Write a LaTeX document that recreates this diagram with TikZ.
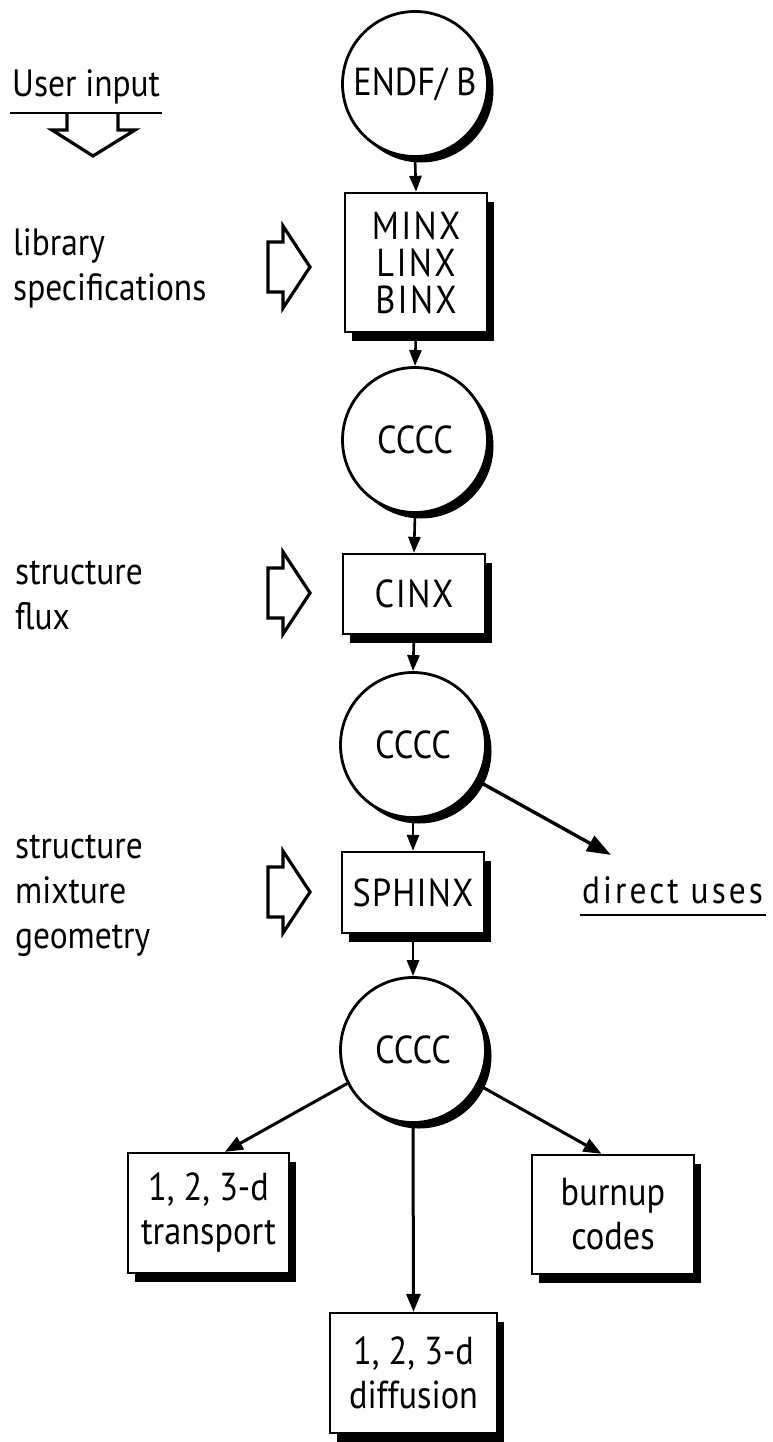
\documentclass[tikz,border=0pt]{standalone}
\usepackage{fontspec}
\setmainfont[FakeStretch=0.88]{PT Sans}
\usetikzlibrary{arrows.meta,shadows,calc}
\begin{document}
\begin{tikzpicture}[x=1pt,y=-1pt,
  lbl/.style={font=\fontsize{38}{45}\selectfont, inner sep=0pt},
  circn/.style={circle, draw, line width=2.8pt, fill=white, minimum size=145pt, inner sep=0pt,
     font=\fontsize{39}{40}\selectfont,
     general shadow={fill=black, shadow xshift=6pt, shadow yshift=-6pt}},
  boxn/.style={rectangle, draw, line width=2.3pt, fill=white, inner sep=0pt, align=center,
     font=\fontsize{39}{44}\selectfont,
     general shadow={fill=black, shadow xshift=7pt, shadow yshift=-9pt}},
  conn/.style={line width=2.6pt, -{Triangle[length=16pt,width=12pt]}},
  lowconn/.style={line width=3pt, -{Triangle[length=18pt,width=14pt]}},
  bigconn/.style={line width=3.4pt, -{Triangle[length=24pt,width=17pt]}},
  hollow/.style={line width=3.2pt, line join=miter},
  uline/.style={line width=2.8pt},
  pics/hollowarrow/.style={code={
     \draw[hollow] (-42,-25) -- (-27,-25) -- (-27,-41) -- (0,0) -- (-27,41) -- (-27,25) -- (-42,25) -- cycle;}}
]
\useasboundingbox (0,0) rectangle (773,1442);

% main column
\node[circn] (endf) at (415,84) {ENDF/ B};
\node[boxn, minimum width=142pt, minimum height=139pt, font=\fontsize{39}{37}\selectfont\addfontfeature{LetterSpace=6}] (minx) at (416,262.5) {MINX\\LINX\\BINX};
\node[circn] (c1) at (415,440) {CCCC};
\node[boxn, minimum width=142pt, minimum height=80pt, font=\fontsize{39}{44}\selectfont\addfontfeature{LetterSpace=4}] (cinx) at (414,594) {CINX};
\node[circn] (c2) at (413,745) {CCCC};
\node[boxn, minimum width=142pt, minimum height=81pt, font=\fontsize{39}{44}\selectfont\addfontfeature{LetterSpace=3}] (sphinx) at (413,892.5) {SPHINX};
\node[circn] (c3) at (413,1050) {CCCC};
\node[boxn, minimum width=161pt, minimum height=120pt] (trans) at (208.5,1213) {1, 2, 3-d\\transport};
\node[boxn, minimum width=162pt, minimum height=119pt] (burn) at (613,1214.5) {burnup\\codes};
\node[boxn, minimum width=167pt, minimum height=120pt] (diff) at (413.5,1373) {1, 2, 3-d\\diffusion};

% connectors
\draw[conn] (endf.south) -- (minx.north);
\draw[conn] (minx.south) -- (c1.north);
\draw[conn] (c1.south) -- (cinx.north);
\draw[conn] (cinx.south) -- (c2.north);
\draw[conn] (c2.south) -- (sphinx.north);
\draw[conn] (sphinx.south) -- (c3.north);
\draw[lowconn] (c3.207) -- ($(trans.north west)!0.6!(trans.north east)$);
\draw[lowconn] (c3.-28) -- ($(burn.north west)!0.43!(burn.north east)$);
\draw[lowconn] (c3.south) -- (diff.north);

% direct uses
\node[lbl, anchor=base west, font=\fontsize{38}{45}\selectfont\addfontfeature{LetterSpace=8}] (du) at (582,903) {direct uses};
\draw[uline] ($(du.base west)+(-2,12)$) -- ($(du.base east)+(3,12)$);
\coordinate (dutip) at (611,855);
\draw[bigconn] (c2.-29) -- (dutip);

% user input
\node[lbl, anchor=base west] (ui) at (12,97) {User input};
\draw[uline] ($(ui.base west)+(-2,16)$) -- ($(ui.base east)+(2,16)$);
\draw[hollow] (67,113) -- (67,130) -- (52,130) -- (93,156) -- (135,130) -- (118,130) -- (118,113);

% left labels
\node[lbl, anchor=west, align=left] (lib) at (13,268) {library\\specifications};
\node[lbl, anchor=west, align=left] (sf) at (15,595) {structure\\flux};
\node[lbl, anchor=west, align=left] (smg) at (15,896) {structure\\mixture\\geometry};
\pic at (310,267) {hollowarrow};
\pic at (310,593) {hollowarrow};
\pic at (310,892) {hollowarrow};
\end{tikzpicture}
\end{document}
